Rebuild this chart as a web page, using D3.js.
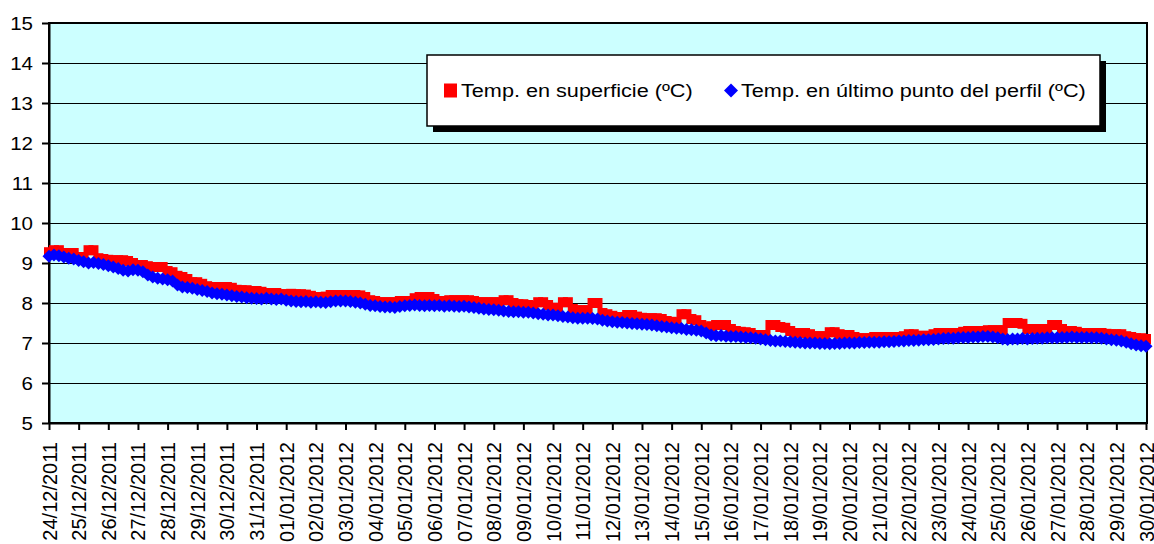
<!DOCTYPE html>
<html>
<head>
<meta charset="utf-8">
<script src="https://cdn.jsdelivr.net/npm/d3@7"></script>
<style>
  html, body { margin: 0; padding: 0; background: #ffffff; }
  svg text { font-family: "Liberation Sans", Arial, sans-serif; fill: #000; }
</style>
</head>
<body>
<svg id="chart" width="1154" height="544"></svg>
<script>
// ---- Data ----
const dateLabels = [
  "24/12/2011","25/12/2011","26/12/2011","27/12/2011","28/12/2011","29/12/2011",
  "30/12/2011","31/12/2011","01/01/2012","02/01/2012","03/01/2012","04/01/2012",
  "05/01/2012","06/01/2012","07/01/2012","08/01/2012","09/01/2012","10/01/2012",
  "11/01/2012","12/01/2012","13/01/2012","14/01/2012","15/01/2012","16/01/2012",
  "17/01/2012","18/01/2012","19/01/2012","20/01/2012","21/01/2012","22/01/2012",
  "23/01/2012","24/01/2012","25/01/2012","26/01/2012","27/01/2012","28/01/2012",
  "29/01/2012","30/01/2012"
];
const yTicks = [5, 6, 7, 8, 9, 10, 11, 12, 13, 14, 15];
const samplesPerDay = 6; // one reading every 4 hours

// Temp. en superficie (ºC)
const surface = [
  9.27, 9.32, 9.32, 9.25, 9.25, 9.25,
  9.15, 9.15, 9.32, 9.32, 9.12, 9.10,
  9.08, 9.07, 9.07, 9.07, 9.05, 9.00,
  8.95, 8.95, 8.92, 8.90, 8.90, 8.90,
  8.80, 8.77, 8.68, 8.65, 8.60, 8.52,
  8.52, 8.48, 8.42, 8.40, 8.40, 8.40,
  8.40, 8.38, 8.33, 8.32, 8.32, 8.30,
  8.30, 8.28, 8.25, 8.25, 8.25, 8.22,
  8.22, 8.23, 8.22, 8.22, 8.21, 8.18,
  8.15, 8.15, 8.16, 8.20, 8.20, 8.20,
  8.20, 8.20, 8.20, 8.19, 8.15, 8.07,
  8.05, 8.02, 8.02, 8.02, 8.02, 8.05,
  8.05, 8.05, 8.12, 8.15, 8.15, 8.15,
  8.10, 8.05, 8.05, 8.07, 8.07, 8.07,
  8.07, 8.07, 8.05, 8.02, 8.02, 8.02,
  8.02, 8.02, 8.07, 8.07, 8.00, 7.97,
  7.97, 7.95, 7.93, 8.02, 8.02, 7.95,
  7.88, 7.88, 8.02, 8.02, 7.85, 7.82,
  7.82, 7.82, 8.00, 8.00, 7.75, 7.72,
  7.68, 7.65, 7.65, 7.70, 7.70, 7.66,
  7.63, 7.62, 7.62, 7.62, 7.60, 7.55,
  7.53, 7.52, 7.72, 7.72, 7.60, 7.57,
  7.45, 7.38, 7.42, 7.45, 7.45, 7.45,
  7.35, 7.30, 7.28, 7.27, 7.25, 7.20,
  7.20, 7.20, 7.45, 7.45, 7.40, 7.38,
  7.30, 7.25, 7.25, 7.25, 7.22, 7.17,
  7.17, 7.17, 7.27, 7.27, 7.22, 7.20,
  7.20, 7.15, 7.12, 7.12, 7.12, 7.15,
  7.15, 7.15, 7.15, 7.15, 7.15, 7.17,
  7.22, 7.22, 7.18, 7.18, 7.18, 7.22,
  7.25, 7.25, 7.25, 7.25, 7.25, 7.28,
  7.30, 7.30, 7.30, 7.30, 7.32, 7.32,
  7.32, 7.32, 7.50, 7.50, 7.50, 7.48,
  7.35, 7.35, 7.35, 7.35, 7.35, 7.45,
  7.45, 7.35, 7.30, 7.30, 7.28, 7.25,
  7.25, 7.25, 7.25, 7.25, 7.23, 7.22,
  7.22, 7.22, 7.17, 7.15, 7.12, 7.12,
  7.10
];

// Temp. en último punto del perfil (ºC)
const deep = [
  9.17, 9.20, 9.18, 9.15, 9.12, 9.10,
  9.06, 9.03, 9.00, 9.01, 8.99, 8.96,
  8.93, 8.90, 8.86, 8.82, 8.80, 8.83,
  8.82, 8.78, 8.70, 8.65, 8.62, 8.60,
  8.58, 8.55, 8.45, 8.40, 8.39, 8.37,
  8.34, 8.31, 8.29, 8.25, 8.23, 8.22,
  8.20, 8.18, 8.16, 8.15, 8.13, 8.12,
  8.11, 8.10, 8.12, 8.10, 8.09, 8.10,
  8.07, 8.05, 8.04, 8.03, 8.04, 8.02,
  8.03, 8.02, 8.01, 8.03, 8.05, 8.05,
  8.05, 8.04, 8.02, 8.00, 7.97, 7.94,
  7.93, 7.91, 7.90, 7.90, 7.89, 7.91,
  7.93, 7.94, 7.95, 7.94, 7.93, 7.94,
  7.93, 7.94, 7.92, 7.93, 7.92, 7.91,
  7.92, 7.90, 7.89, 7.87, 7.85, 7.84,
  7.83, 7.82, 7.80, 7.79, 7.78, 7.78,
  7.77, 7.77, 7.75, 7.73, 7.72, 7.70,
  7.70, 7.68, 7.66, 7.65, 7.63, 7.62,
  7.62, 7.62, 7.61, 7.60, 7.57, 7.55,
  7.53, 7.52, 7.51, 7.50, 7.49, 7.48,
  7.47, 7.46, 7.45, 7.43, 7.41, 7.40,
  7.38, 7.37, 7.36, 7.34, 7.33, 7.32,
  7.30, 7.25, 7.20, 7.18, 7.19, 7.17,
  7.16, 7.16, 7.15, 7.14, 7.13, 7.12,
  7.10, 7.08, 7.06, 7.05, 7.05, 7.04,
  7.03, 7.02, 7.01, 7.00, 7.00, 7.00,
  6.99, 6.99, 6.98, 6.99, 6.99, 7.00,
  7.00, 7.00, 7.01, 7.01, 7.02, 7.02,
  7.02, 7.03, 7.03, 7.04, 7.05, 7.05,
  7.06, 7.06, 7.07, 7.08, 7.08, 7.09,
  7.10, 7.11, 7.12, 7.12, 7.13, 7.14,
  7.14, 7.15, 7.15, 7.16, 7.16, 7.15,
  7.13, 7.10, 7.09, 7.10, 7.10, 7.11,
  7.10, 7.11, 7.12, 7.12, 7.13, 7.13,
  7.13, 7.14, 7.14, 7.15, 7.14, 7.14,
  7.14, 7.13, 7.13, 7.12, 7.10, 7.08,
  7.07, 7.05, 7.02, 6.98, 6.95, 6.93,
  6.92
];

const seriesNames = ["Temp. en superficie (ºC)", "Temp. en último punto del perfil (ºC)"];
const seriesColors = ["#FF0000", "#0000FF"];

// ---- Layout ----
const svg = d3.select("#chart");
const plot = { left: 49, right: 1147, top: 23, bottom: 423 };
const FONT = 18, STRETCH = 1.14;
const XFONT = 20, LFONT = 19;

const x = d3.scaleLinear().domain([0, dateLabels.length - 1]).range([plot.left, plot.right - 1]);
const y = d3.scaleLinear().domain([5, 15]).range([plot.bottom, plot.top]);

// background of plot
svg.append("rect")
  .attr("x", plot.left).attr("y", plot.top)
  .attr("width", plot.right - plot.left).attr("height", plot.bottom - plot.top)
  .attr("fill", "#CCFFFF");

// gridlines
svg.append("g").selectAll("line")
  .data(yTicks.filter(v => v > 5 && v < 15))
  .join("line")
  .attr("x1", plot.left).attr("x2", plot.right)
  .attr("y1", d => Math.round(y(d)) + 0.5).attr("y2", d => Math.round(y(d)) + 0.5)
  .attr("stroke", "#000").attr("stroke-width", 1);

// plot border
svg.append("rect")
  .attr("x", plot.left).attr("y", plot.top)
  .attr("width", plot.right - plot.left).attr("height", plot.bottom - plot.top)
  .attr("fill", "none").attr("stroke", "#000").attr("stroke-width", 2);

// y axis
const yAxis = svg.append("g")
  .attr("transform", `translate(${plot.left},0)`)
  .call(d3.axisLeft(y).tickValues(yTicks).tickSize(7).tickSizeOuter(0).tickPadding(0).tickFormat(d3.format("d")));
yAxis.select(".domain").attr("stroke", "#000").attr("stroke-width", 2);
yAxis.selectAll(".tick line").attr("stroke", "#000").attr("stroke-width", 2);
yAxis.selectAll(".tick text")
  .attr("font-size", FONT)
  .attr("text-anchor", "end")
  .attr("x", null).attr("dy", null)
  .attr("dominant-baseline", "central")
  .attr("transform", `translate(-16,0) scale(${STRETCH},1)`);

// x axis
const xAxis = svg.append("g")
  .attr("transform", `translate(0,${plot.bottom})`)
  .call(d3.axisBottom(x).tickValues(d3.range(dateLabels.length)).tickSize(7).tickSizeOuter(0).tickFormat(i => dateLabels[i]));
xAxis.select(".domain").attr("stroke", "#000").attr("stroke-width", 2);
xAxis.selectAll(".tick line").attr("stroke", "#000").attr("stroke-width", 2);
xAxis.selectAll(".tick text")
  .attr("font-size", XFONT)
  .attr("text-anchor", "end")
  .attr("y", null).attr("dy", null)
  .attr("transform", `translate(7,19) rotate(-90)`);

// markers
const pos = i => x(i / samplesPerDay);
const sq = 10;
svg.append("g").selectAll("rect")
  .data(surface)
  .join("rect")
  .attr("x", (d, i) => pos(i) - sq / 2)
  .attr("y", d => y(d) - sq / 2)
  .attr("width", sq).attr("height", sq)
  .attr("fill", seriesColors[0]);

const dh = 6.5;
const diamond = `M0,${-dh}L${dh},0L0,${dh}L${-dh},0Z`;
svg.append("g").selectAll("path")
  .data(deep)
  .join("path")
  .attr("d", diamond)
  .attr("transform", (d, i) => `translate(${pos(i)},${y(d)})`)
  .attr("fill", seriesColors[1]);

// legend
const lg = svg.append("g");
const L = { x: 427, y: 55, w: 673, h: 71 };
lg.append("rect").attr("x", L.x + 6).attr("y", L.y + 6).attr("width", L.w).attr("height", L.h).attr("fill", "#000");
lg.append("rect").attr("x", L.x).attr("y", L.y).attr("width", L.w).attr("height", L.h)
  .attr("fill", "#fff").attr("stroke", "#000").attr("stroke-width", 1.5);
const ly = L.y + L.h / 2;
lg.append("rect").attr("x", 444).attr("y", ly - 7).attr("width", 13).attr("height", 14).attr("fill", seriesColors[0]);
lg.append("path").attr("d", `M0,-7L7,0L0,7L-7,0Z`).attr("transform", `translate(731,${ly})`).attr("fill", seriesColors[1]);
lg.append("text").attr("font-size", LFONT).attr("dominant-baseline", "central")
  .attr("transform", `translate(461,${ly}) scale(${STRETCH},1)`).text(seriesNames[0]);
lg.append("text").attr("font-size", LFONT).attr("dominant-baseline", "central")
  .attr("transform", `translate(741,${ly}) scale(${STRETCH},1)`).text(seriesNames[1]);
</script>
</body>
</html>
